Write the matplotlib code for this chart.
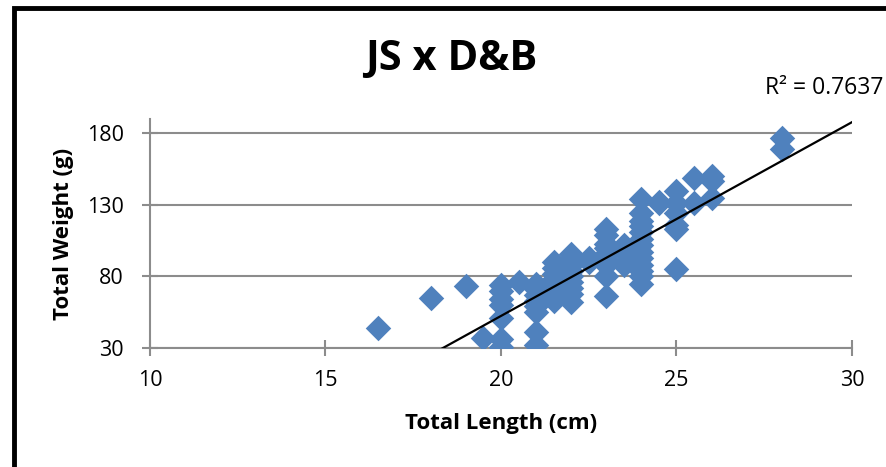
import numpy as np
import matplotlib
matplotlib.use('Agg')
import matplotlib.pyplot as plt
from matplotlib.patches import Rectangle

plt.rcParams['font.family'] = ['Open Sans', 'DejaVu Sans']

# Total length (cm) and total weight (g)
length = ([16.5, 18, 19, 19.5]
          + [20] * 7 + [20.5]
          + [21] * 8 + [21.5] * 7 + [22] * 9 + [22.5] * 2
          + [23] * 9 + [23.5] * 3 + [24] * 13 + [24.5] * 2
          + [25] * 6 + [25.5] * 2 + [26] * 3 + [28] * 2)
weight = ([44, 65, 73, 37]
          + [74, 70, 64, 60, 51, 36, 31] + [76]
          + [75, 71, 67, 63, 59, 55, 41, 32]
          + [90, 86, 82, 78, 73, 68, 63]
          + [96, 92, 88, 84, 80, 76, 72, 68, 62]
          + [93, 90]
          + [113, 109, 103, 100, 96, 92, 88, 80, 66]
          + [102, 97, 88]
          + [134, 124, 119, 115, 111, 106, 102, 97, 93, 88, 84, 80, 75]
          + [132, 131]
          + [140, 131, 124, 116, 113, 85]
          + [149, 131]
          + [150, 147, 135]
          + [177, 169])
# linear trendline as shown in the chart
trend_slope = 13.54
trend_intercept = -218.4
r2_text = 'R² = 0.7637'
x_ticks = [10, 15, 20, 25, 30]
y_ticks = [30, 80, 130, 180]

x = np.array(length, dtype=float)
y = np.array(weight, dtype=float)

fig = plt.figure(figsize=(8.87, 4.67), dpi=100)
fig.patches.append(Rectangle((14 / 887, -0.1), 1.2, (467 - 8) / 467 + 0.1,
                             transform=fig.transFigure, fill=False,
                             edgecolor='black', linewidth=3.5))

ax = fig.add_axes([150 / 887, (467 - 348) / 467, (852 - 150) / 887, (348 - 119) / 467])
ax.scatter(x, y, marker='D', s=13 ** 2, color='#4F81BD', linewidths=0, zorder=3)

xs = np.array([10, 30])
ax.plot(xs, trend_slope * xs + trend_intercept, color='black', linewidth=1.6, zorder=4)

ax.set_xlim(10, 30)
ax.set_ylim(30, 190)
ax.set_xticks(x_ticks)
ax.set_yticks(y_ticks)
ax.yaxis.grid(True, color='#8c8c8c', linewidth=1.5)
ax.set_axisbelow(True)
for s in ['top', 'right']:
    ax.spines[s].set_visible(False)
for s in ['left', 'bottom']:
    ax.spines[s].set_color('#8c8c8c')
    ax.spines[s].set_linewidth(1.5)
ax.tick_params(colors='#8c8c8c', direction='inout', length=12, width=1.5,
               labelcolor='black', labelsize=15.5)
ax.tick_params(axis='y', pad=13)
ax.tick_params(axis='x', pad=10)
ax.set_xlabel('Total Length (cm)', fontsize=16, fontweight='bold', va='center')
ax.set_ylabel('Total Weight (g)', fontsize=16, fontweight='bold', va='center')
ax.xaxis.set_label_coords(0.5, (348 - 424) / 229)
ax.yaxis.set_label_coords((64 - 150) / 702, 0.5)

fig.text(451 / 887, 1 - 59 / 467, 'JS x D&B', fontsize=30, fontweight='bold',
         ha='center', va='center')
fig.text(765 / 887, 1 - 88 / 467, r2_text, fontsize=16.5, ha='left', va='center')

fig.savefig('out.png', dpi=100)
